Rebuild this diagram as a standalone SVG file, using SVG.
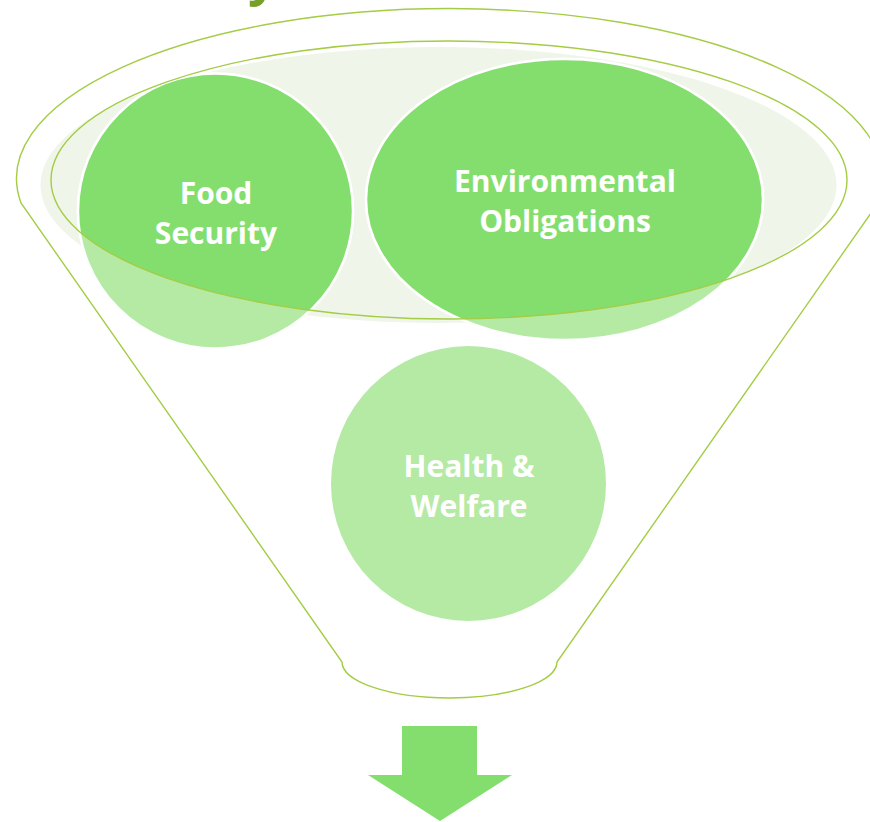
<svg xmlns="http://www.w3.org/2000/svg" width="870" height="822" viewBox="0 0 870 822">
  <style>
    .outline { fill: none; stroke: #a4cc45; stroke-width: 1.4; }
    .label { fill: #ffffff; font-family: "Open Sans", "Liberation Sans", sans-serif; font-weight: bold; font-size: 30px; text-anchor: middle; }
    .light { fill: #b5eaa5; }
    .dark { fill: #84de6e; }
    .edge { stroke: #ffffff; stroke-width: 2.5; }
  </style>
  <defs>
    <clipPath id="rimClip">
      <ellipse cx="449" cy="180" rx="398" ry="139"/>
    </clipPath>
  </defs>
  <rect width="870" height="822" fill="#ffffff"/>

  <g id="title-fragment">
    <text x="248" y="-6" font-family="Open Sans, Liberation Sans, sans-serif" font-weight="bold" font-size="52" fill="#77a02b">y</text>
  </g>

  <g id="funnel">
    <path class="outline" d="M 21,203 A 433,170 0 1 1 878,203 L 557,662 A 107.5,36 0 0 1 342,662 Z"/>
    <ellipse cx="438.5" cy="185" rx="398" ry="138" fill="#eff5e8"/>
  </g>

  <g id="food-security">
    <circle class="light edge" cx="215.5" cy="211" r="137.5"/>
    <circle class="dark edge" cx="215.5" cy="211" r="137.5" clip-path="url(#rimClip)"/>
    <text class="label" x="216" y="204">Food</text>
    <text class="label" x="216" y="244">Security</text>
  </g>

  <g id="environmental-obligations">
    <ellipse class="light edge" cx="564.5" cy="199.5" rx="198.5" ry="140.5"/>
    <ellipse class="dark edge" cx="564.5" cy="199.5" rx="198.5" ry="140.5" clip-path="url(#rimClip)"/>
    <text class="label" x="565" y="192">Environmental</text>
    <text class="label" x="565" y="232">Obligations</text>
  </g>

  <g id="rim">
    <ellipse class="outline" cx="449" cy="180" rx="398" ry="139"/>
  </g>

  <g id="health-welfare">
    <circle class="light" cx="468.5" cy="483.5" r="137.5"/>
    <text class="label" x="469" y="477">Health &amp;</text>
    <text class="label" x="469" y="517">Welfare</text>
  </g>

  <g id="connectors">
    <path class="dark" d="M 402,726 L 477,726 L 477,775 L 512,775 L 440,821 L 368,775 L 402,775 Z"/>
  </g>
</svg>
